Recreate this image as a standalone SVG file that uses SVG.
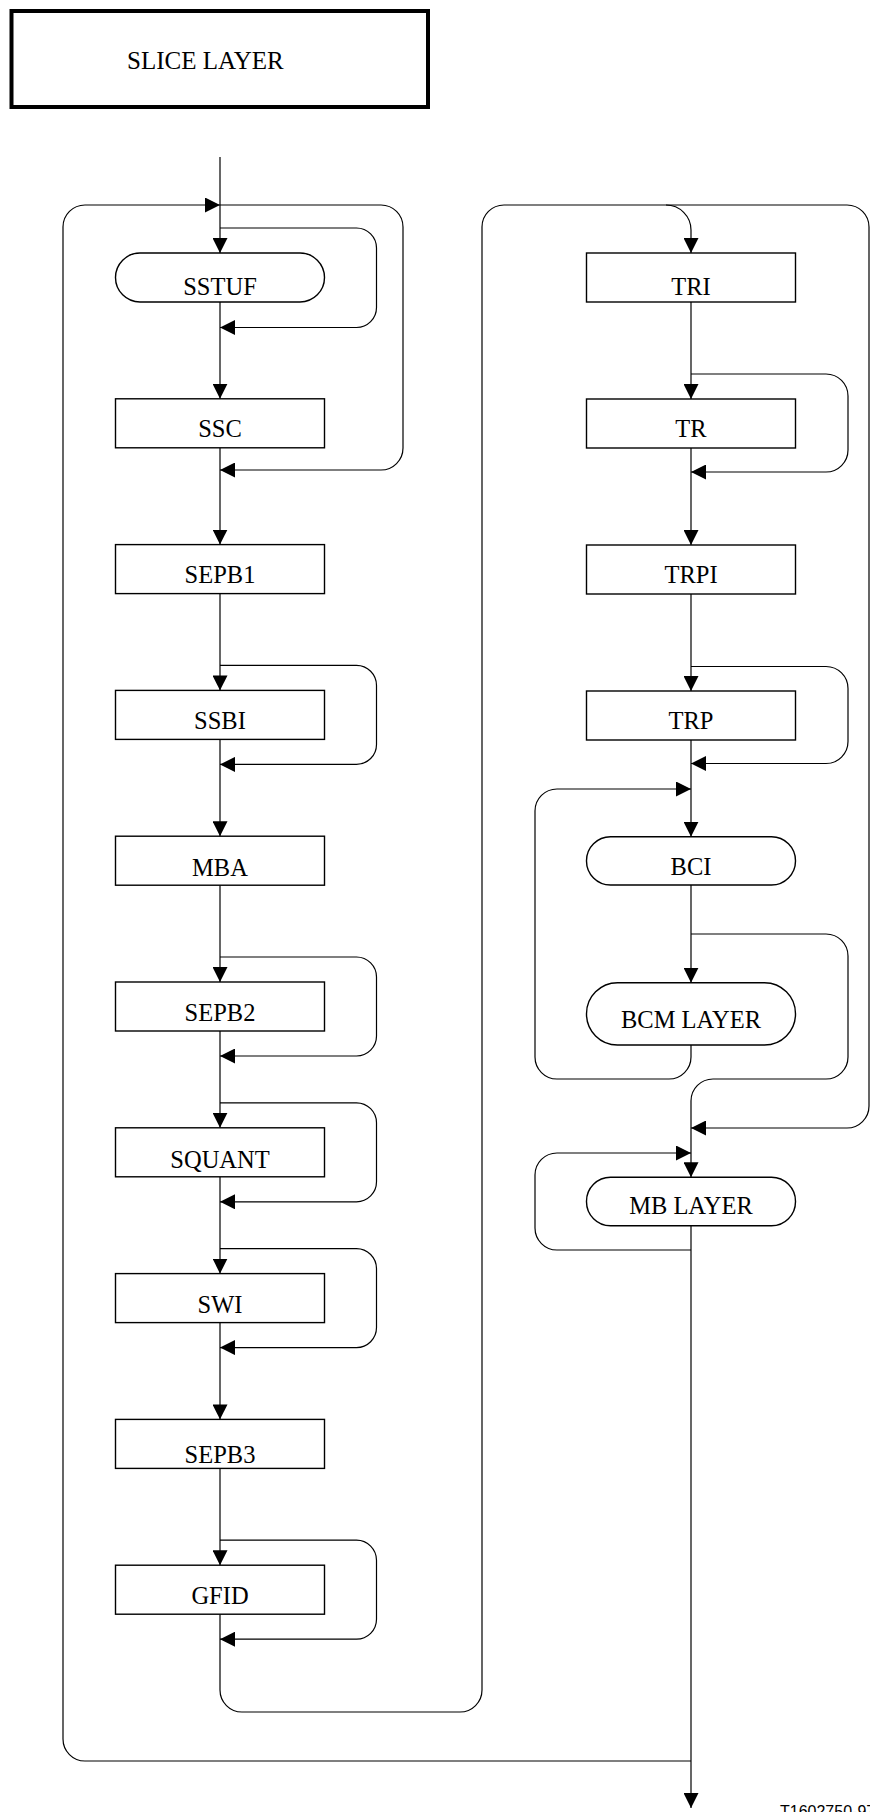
<svg xmlns="http://www.w3.org/2000/svg" width="870" height="1812" viewBox="0 0 870 1812">
<style>
.bx{fill:#fff;stroke:#000;stroke-width:1.4}
.ln{fill:none;stroke:#000;stroke-width:1.2}
.ar{fill:none;stroke:#000;stroke-width:1.2;marker-end:url(#ah)}
.t{font-family:"Liberation Serif","Times New Roman",serif;font-size:24.5px;text-anchor:middle;fill:#000}
</style>
<defs>
<marker id="ah" viewBox="0 0 15 15" refX="15" refY="7.5" markerWidth="15" markerHeight="15" orient="auto" markerUnits="userSpaceOnUse">
<path d="M0,0 L15,7.5 L0,15 z" fill="#000"/>
</marker>
</defs>
<rect width="870" height="1812" fill="#fff"/>

<g id="title">
<rect x="11.5" y="11" width="416.5" height="96" fill="none" stroke="#000" stroke-width="4"/>
<text x="127" y="69" style="font-family:'Liberation Serif','Times New Roman',serif;font-size:25px;fill:#000">SLICE LAYER</text>
</g>

<g id="connectors">
<path class="ar" d="M220,157 V253"/>
<path class="ar" d="M691,1761 H85 A22,22 0 0 1 63,1739 V227 A22,22 0 0 1 85,205 H220"/>
<path class="ar" d="M220,205 H381 A22,22 0 0 1 403,227 V448 A22,22 0 0 1 381,470 H220"/>
<path class="ar" d="M220,228 H356.5 A20,20 0 0 1 376.5,248 V307.5 A20,20 0 0 1 356.5,327.5 H220"/>
<path class="ar" d="M220,302 V398.8"/>
<path class="ar" d="M220,447.8 V544.6"/>
<path class="ar" d="M220,593.6 V690.4"/>
<path class="ar" d="M220,665.4 H356.5 A20,20 0 0 1 376.5,685.4 V744.4 A20,20 0 0 1 356.5,764.4 H220"/>
<path class="ar" d="M220,739.4 V836.2"/>
<path class="ar" d="M220,885.2 V982"/>
<path class="ar" d="M220,957 H356.5 A20,20 0 0 1 376.5,977 V1036 A20,20 0 0 1 356.5,1056 H220"/>
<path class="ar" d="M220,1031 V1127.8"/>
<path class="ar" d="M220,1102.8 H356.5 A20,20 0 0 1 376.5,1122.8 V1181.8 A20,20 0 0 1 356.5,1201.8 H220"/>
<path class="ar" d="M220,1176.8 V1273.6"/>
<path class="ar" d="M220,1248.6 H356.5 A20,20 0 0 1 376.5,1268.6 V1327.6 A20,20 0 0 1 356.5,1347.6 H220"/>
<path class="ar" d="M220,1322.6 V1419.4"/>
<path class="ar" d="M220,1468.4 V1565.2"/>
<path class="ar" d="M220,1540.2 H356.5 A20,20 0 0 1 376.5,1560.2 V1619.2 A20,20 0 0 1 356.5,1639.2 H220"/>
<path class="ar" d="M220,1614.2 V1690 A22,22 0 0 0 242,1712 H460 A22,22 0 0 0 482,1690 V227 A22,22 0 0 1 504,205 H666 A25,25 0 0 1 691,230 V253"/>
<path class="ar" d="M666,205 H847 A22,22 0 0 1 869,227 V1106 A22,22 0 0 1 847,1128 H691"/>
<path class="ar" d="M691,302 V399"/>
<path class="ar" d="M691,374 H826 A22,22 0 0 1 848,396 V450 A22,22 0 0 1 826,472 H691"/>
<path class="ar" d="M691,448 V545"/>
<path class="ar" d="M691,594 V691"/>
<path class="ar" d="M691,666.5 H826 A22,22 0 0 1 848,688.5 V741.5 A22,22 0 0 1 826,763.5 H691"/>
<path class="ar" d="M691,740 V836.7"/>
<path class="ar" d="M691,1045 V1057 A22,22 0 0 1 669,1079 H557 A22,22 0 0 1 535,1057 V811 A22,22 0 0 1 557,789 H691"/>
<path class="ar" d="M691,885 V982.7"/>
<path class="ar" d="M691,934 H826 A22,22 0 0 1 848,956 V1057 A22,22 0 0 1 826,1079 H713 A22,22 0 0 0 691,1101 V1177.3"/>
<path class="ar" d="M691,1250 H557 A22,22 0 0 1 535,1228 V1175 A22,22 0 0 1 557,1153 H691"/>
<path class="ar" d="M691,1225.7 V1808"/>
</g>

<g id="n-sstuf"><rect class="bx" x="115.5" y="253" width="209" height="49" rx="24.5"/><text class="t" x="220" y="295.4">SSTUF</text></g>
<g id="n-ssc"><rect class="bx" x="115.5" y="398.8" width="209" height="49"/><text class="t" x="220" y="437.2">SSC</text></g>
<g id="n-sepb1"><rect class="bx" x="115.5" y="544.6" width="209" height="49"/><text class="t" x="220" y="582.9">SEPB1</text></g>
<g id="n-ssbi"><rect class="bx" x="115.5" y="690.4" width="209" height="49"/><text class="t" x="220" y="728.9">SSBI</text></g>
<g id="n-mba"><rect class="bx" x="115.5" y="836.2" width="209" height="49"/><text class="t" x="220" y="875.5">MBA</text></g>
<g id="n-sepb2"><rect class="bx" x="115.5" y="982" width="209" height="49"/><text class="t" x="220" y="1021.2">SEPB2</text></g>
<g id="n-squant"><rect class="bx" x="115.5" y="1127.8" width="209" height="49"/><text class="t" x="220" y="1168.3">SQUANT</text></g>
<g id="n-swi"><rect class="bx" x="115.5" y="1273.6" width="209" height="49"/><text class="t" x="220" y="1313.1">SWI</text></g>
<g id="n-sepb3"><rect class="bx" x="115.5" y="1419.4" width="209" height="49"/><text class="t" x="220" y="1463.4">SEPB3</text></g>
<g id="n-gfid"><rect class="bx" x="115.5" y="1565.2" width="209" height="49"/><text class="t" x="220" y="1603.9">GFID</text></g>

<g id="n-tri"><rect class="bx" x="586.5" y="253" width="209" height="49"/><text class="t" x="691" y="295">TRI</text></g>
<g id="n-tr"><rect class="bx" x="586.5" y="399" width="209" height="49"/><text class="t" x="691" y="437.3">TR</text></g>
<g id="n-trpi"><rect class="bx" x="586.5" y="545" width="209" height="49"/><text class="t" x="691" y="583.3">TRPI</text></g>
<g id="n-trp"><rect class="bx" x="586.5" y="691" width="209" height="49"/><text class="t" x="691" y="729.3">TRP</text></g>
<g id="n-bci"><rect class="bx" x="586.5" y="836.7" width="209" height="48.3" rx="24"/><text class="t" x="691" y="875">BCI</text></g>
<g id="n-bcm"><rect class="bx" x="586.5" y="982.7" width="209" height="62.3" rx="31"/><text class="t" x="691" y="1028">BCM LAYER</text></g>
<g id="n-mb"><rect class="bx" x="586.5" y="1177.3" width="209" height="48.4" rx="24"/><text class="t" x="691" y="1214">MB LAYER</text></g>

<text x="780" y="1817" style="font-family:'Liberation Sans',Arial,sans-serif;font-size:16px;fill:#000">T1602750-97</text>
</svg>
